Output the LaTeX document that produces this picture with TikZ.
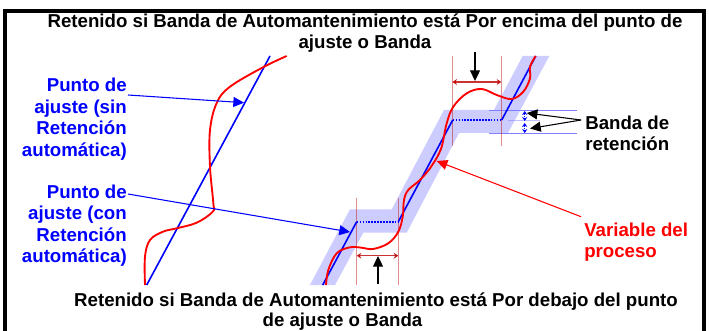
\documentclass[tikz,border=0pt]{standalone}
\usepackage{fontspec}
\setmainfont{Liberation Sans}
\usetikzlibrary{arrows.meta}
\tikzset{
 lbl/.style={font=\bfseries\fontsize{14}{16.1}\selectfont,inner sep=0pt},
 ttl/.style={font=\bfseries\fontsize{14}{15.5}\selectfont,align=center,inner sep=0pt},
 blbl/.style={lbl,align=right,text=blue},
 rlbl/.style={lbl,align=left,text=red},
 klbl/.style={lbl,align=left},
 ptr/.style={line width=0.8pt,-{Triangle[length=8pt,width=7.5pt]}},
 sp/.style={blue,line width=1.2pt},
 pv/.style={red,line width=1.4pt,line join=round},
 guide/.style={red!75!black,opacity=.45,line width=.7pt},
 span/.style={red!75!black,opacity=.8,line width=.9pt,{Stealth[length=3.5pt,width=4.5pt]}-{Stealth[length=3.5pt,width=4.5pt]}},
 bandline/.style={blue!50,line width=.7pt},
 tick/.style={blue,line width=.8pt,densely dotted,{Stealth[length=3pt,width=4pt]}-{Stealth[length=3pt,width=4pt]}},
}
\begin{document}
\begin{tikzpicture}[x=1pt,y=-1pt,scale=0.75]
\useasboundingbox (0,0) rectangle (709,331);
\fill[white] (0,0) rectangle (709,331);
% frame (open at the bottom)
\draw[line width=2.5pt,line cap=rect] (5,331) -- (5,11) -- (704,11) -- (704,331);
% hold band
\fill[blue!20] (310,285) -- (350,209.3) -- (391.7,209.3) -- (444,110) -- (494,110) -- (522.7,56) -- (549.3,56)
  -- (508,133) -- (459,133) -- (406.7,232.7) -- (363.3,232.7) -- (335,285) -- cycle;
% band limits
\draw[bandline] (489,110) -- (577,110);
\draw[bandline] (489,133.5) -- (577,133.5);
\draw[bandline,opacity=.5] (508,120.7) -- (540,120.7);
% guides
\draw[guide] (452.3,56) -- (452.3,146);
\draw[guide] (501.3,56) -- (501.3,146);
\draw[guide] (356.7,197.7) -- (356.7,285);
\draw[guide] (398.3,197.7) -- (398.3,285);
\coordinate (ua) at (452.3,82); \coordinate (ub) at (501.3,82);
\coordinate (la) at (356.7,255.7); \coordinate (lb) at (398.3,255.7);
\draw[span] (ua) -- (ub);
\draw[span] (la) -- (lb);
% set points
\coordinate (a0) at (146.7,285); \coordinate (a1) at (270,56);
\draw[sp] (a0) -- (a1);
\coordinate (b0) at (322.7,285); \coordinate (b1) at (356.7,221.7); \coordinate (b2) at (398.3,221.7);
\coordinate (b3) at (452.7,120); \coordinate (b4) at (501.7,120); \coordinate (b5) at (535.7,56);
\draw[sp] (b0) -- (b1);
\draw[sp,densely dotted] (b1) -- (b2);
\draw[sp] (b2) -- (b3);
\draw[sp,densely dotted] (b3) -- (b4);
\draw[sp] (b4) -- (b5);
% process variable
\draw[pv] plot[smooth,tension=.6] coordinates {(145,285) (145,256.7) (150,240) (163,231.7) (176.7,228.3) (196.7,222.7) (212.7,211.7) (213.3,203) (210,166.7) (210,130) (216.7,103) (230,86.7) (263,67.3) (286.7,56)};
\draw[pv] plot[smooth,tension=.6] coordinates {(326,285) (328.3,270) (336.7,253.3) (350,247.3) (361.7,247.7) (373,249) (388.3,243.3) (398.3,231.7) (402.7,216.7) (404,200) (408.3,190) (420,180) (430,168.3) (435.5,160) (441.7,146.7) (446.7,123.3) (453.3,106.7) (466.7,93.3) (481.7,89) (496.7,95) (511.7,99) (523.3,91.7) (530,78.3) (530,66.7) (535.7,56)};
% labels
\node[ttl] (t1) at (365,33) {Retenido si Banda de Automantenimiento está Por encima del punto de\\ajuste o Banda};
\node[ttl] (t2) at (376,302) {Retenido si Banda de Automantenimiento está Por debajo del punto};
\node[ttl] (t3) at (342.5,322) {de ajuste o Banda};
\node[blbl,anchor=east] (sa) at (127,119) {Punto de\\ajuste (sin\\Retención\\automática)};
\node[blbl,anchor=east] (sb) at (127,225.5) {Punto de\\ajuste (con\\Retención\\automática)};
\node[rlbl,anchor=west] (pvl) at (584,242) {Variable del\\proceso};
\node[klbl,anchor=west] (hb) at (585,133.5) {Banda de\\retención};
% pointers
\coordinate (sa0) at (128,95); \coordinate (sa1) at (244,102.7);
\coordinate (sb0) at (128,194); \coordinate (sb1) at (350,232);
\draw[ptr,blue] (sa0) -- (sa1);
\draw[ptr,blue] (sb0) -- (sb1);
\coordinate (pv0) at (581,216.7); \coordinate (pv1) at (436.7,161);
\draw[ptr,red] (pv0) -- (pv1);
\coordinate (k0) at (475,52); \coordinate (k1) at (475,81);
\coordinate (m0) at (378,284); \coordinate (m1) at (378,256);
\draw[ptr,black] (k0) -- (k1);
\draw[ptr,black] (m0) -- (m1);
\coordinate (h0) at (581,120); \coordinate (h1) at (526.7,113); \coordinate (h2) at (530,128.5);
\draw[ptr,black] (h0) -- (h1);
\draw[ptr,black] (h0) -- (h2);
\coordinate (d0) at (524.7,111); \coordinate (d1) at (524.7,121); \coordinate (d2) at (524.7,123); \coordinate (d3) at (524.7,133);
\draw[tick] (d0) -- (d1);
\draw[tick] (d2) -- (d3);
\end{tikzpicture}
\end{document}
